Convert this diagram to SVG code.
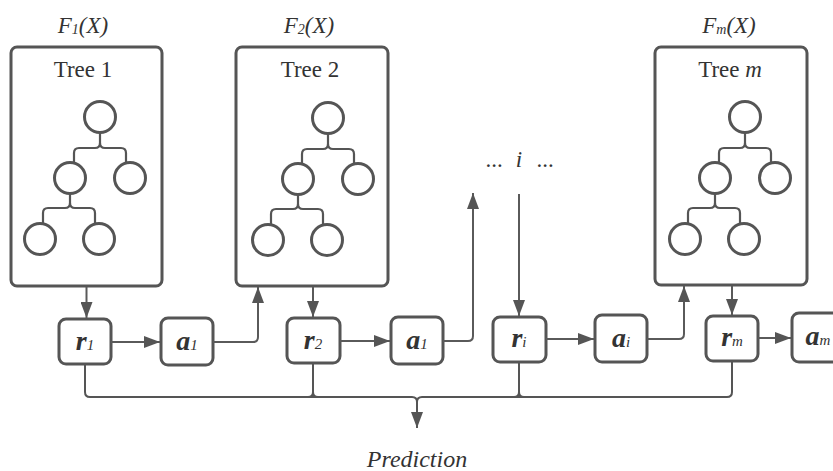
<svg xmlns="http://www.w3.org/2000/svg" width="833" height="471" viewBox="0 0 833 471">
  <defs>
    <style>
      .frame { fill: #fff; stroke: #555; stroke-width: 3; }
      .node { fill: none; stroke: #555; stroke-width: 3; }
      .edge { fill: none; stroke: #555; stroke-width: 2.2; }
      .wire { fill: none; stroke: #555; stroke-width: 2; }
      .arrow { fill: none; stroke: #5a5a5a; stroke-width: 2; }
      .title { font-family: "Liberation Serif", "Times New Roman", serif; font-size: 23px; fill: #333; text-anchor: middle; }
      .fx { font-family: "Liberation Serif", "Times New Roman", serif; font-style: italic; font-size: 23px; fill: #333; text-anchor: middle; }
      .pred { font-size: 24px; }
      .var { font-family: "Liberation Serif", "Times New Roman", serif; font-style: italic; font-weight: bold; font-size: 28px; fill: #333; text-anchor: middle; }
      .sub { font-weight: normal; font-size: 15px; }
      .fsub { font-size: 14px; }
    </style>
    <marker id="head" viewBox="0 0 16 12" refX="16" refY="6" markerWidth="16" markerHeight="12" markerUnits="userSpaceOnUse" orient="auto">
      <path d="M0,0 L16,6 L0,12 z" fill="#555"/>
    </marker>
    <!-- small binary tree: root, two children, two grandchildren under the left child -->
    <g id="tree">
      <circle class="node" cx="100" cy="117" r="15.5"/>
      <circle class="node" cx="70" cy="178" r="15.5"/>
      <circle class="node" cx="130" cy="178" r="15.5"/>
      <circle class="node" cx="40" cy="239" r="15.5"/>
      <circle class="node" cx="99" cy="239" r="15.5"/>
      <path class="edge" d="M100,133 V143 Q100,148 95,148 H79 Q74,148 74,153 V163"/>
      <path class="edge" d="M100,143 Q100,148 105,148 H121 Q126,148 126,153 V163"/>
      <path class="edge" d="M70,194 V203 Q70,208 65,208 H48 Q43,208 43,213 V224"/>
      <path class="edge" d="M70,203 Q70,208 75,208 H90 Q95,208 95,213 V224"/>
    </g>
  </defs>

  <g id="tree-1">
    <text class="fx" x="83" y="33">F<tspan class="fsub" dy="1">1</tspan><tspan dy="-1">(X)</tspan></text>
    <rect class="frame" x="11" y="47" width="151" height="239" rx="6"/>
    <text class="title" x="83" y="77">Tree 1</text>
    <use href="#tree"/>
  </g>

  <g id="tree-2">
    <text class="fx" x="309" y="33">F<tspan class="fsub" dy="1">2</tspan><tspan dy="-1">(X)</tspan></text>
    <rect class="frame" x="236" y="47" width="152" height="239" rx="6"/>
    <text class="title" x="310" y="77">Tree 2</text>
    <use href="#tree" transform="translate(228,1)"/>
  </g>

  <g id="tree-m">
    <text class="fx" x="729" y="33">F<tspan class="fsub" dy="1">m</tspan><tspan dy="-1">(X)</tspan></text>
    <rect class="frame" x="655" y="47" width="152" height="238" rx="6"/>
    <text class="title" x="730" y="77">Tree <tspan font-style="italic">m</tspan></text>
    <use href="#tree" transform="translate(645,0)"/>
  </g>

  <g id="ellipsis">
    <text class="title" x="494" y="167">...</text>
    <text class="fx" x="519" y="167" font-size="25">i</text>
    <text class="title" x="545" y="167">...</text>
  </g>

  <g id="r1">
    <rect class="frame" x="59" y="319" width="52" height="45" rx="7"/>
    <text class="var" x="85" y="350">r<tspan class="sub">1</tspan></text>
  </g>
  <g id="a1">
    <rect class="frame" x="161" y="318" width="52" height="47" rx="7"/>
    <text class="var" x="187" y="350">a<tspan class="sub">1</tspan></text>
  </g>
  <g id="r2">
    <rect class="frame" x="287" y="318" width="53" height="45" rx="7"/>
    <text class="var" x="313" y="349">r<tspan class="sub">2</tspan></text>
  </g>
  <g id="a1-second">
    <rect class="frame" x="391" y="317" width="52" height="47" rx="7"/>
    <text class="var" x="417" y="349">a<tspan class="sub">1</tspan></text>
  </g>
  <g id="ri">
    <rect class="frame" x="493" y="317" width="53" height="45" rx="7"/>
    <text class="var" x="519" y="347">r<tspan class="sub">i</tspan></text>
  </g>
  <g id="ai">
    <rect class="frame" x="595" y="315" width="52" height="47" rx="7"/>
    <text class="var" x="621" y="347">a<tspan class="sub">i</tspan></text>
  </g>
  <g id="rm">
    <rect class="frame" x="706" y="316" width="52" height="45" rx="7"/>
    <text class="var" x="732" y="346">r<tspan class="sub">m</tspan></text>
  </g>
  <g id="am">
    <rect class="frame" x="792" y="313" width="60" height="49" rx="7"/>
    <text class="var" x="818" y="345">a<tspan class="sub">m</tspan></text>
  </g>

  <g id="connectors">
    <path class="arrow" d="M86.5,287 V318" marker-end="url(#head)"/>
    <path class="arrow" d="M111,342 H160" marker-end="url(#head)"/>
    <path class="arrow" d="M213,342 H253 Q258,342 258,337 V287" marker-end="url(#head)"/>
    <path class="arrow" d="M313,287 V317" marker-end="url(#head)"/>
    <path class="arrow" d="M340,341 H390" marker-end="url(#head)"/>
    <path class="arrow" d="M443,341 H468 Q473,341 473,336 V193" marker-end="url(#head)"/>
    <path class="arrow" d="M519,194 V316" marker-end="url(#head)"/>
    <path class="arrow" d="M546,339 H594" marker-end="url(#head)"/>
    <path class="arrow" d="M647,339 H679 Q684,339 684,334 V286" marker-end="url(#head)"/>
    <path class="arrow" d="M732,286 V315" marker-end="url(#head)"/>
    <path class="arrow" d="M758,338 H791" marker-end="url(#head)"/>
    <!-- residual outputs merged into the prediction -->
    <path class="wire" d="M85,364 V392 Q85,397 90,397 H412 Q417,397 417,402 V428" marker-end="url(#head)"/>
    <path class="wire" d="M732,361 V392 Q732,397 727,397 H422 Q417,397 417,402"/>
    <path class="wire" d="M313,363 V392 Q313,397 308,397 M313,392 Q313,397 318,397"/>
    <path class="wire" d="M519,362 V392 Q519,397 514,397 M519,392 Q519,397 524,397"/>
  </g>

  <text class="fx pred" x="417" y="467">Prediction</text>
</svg>
